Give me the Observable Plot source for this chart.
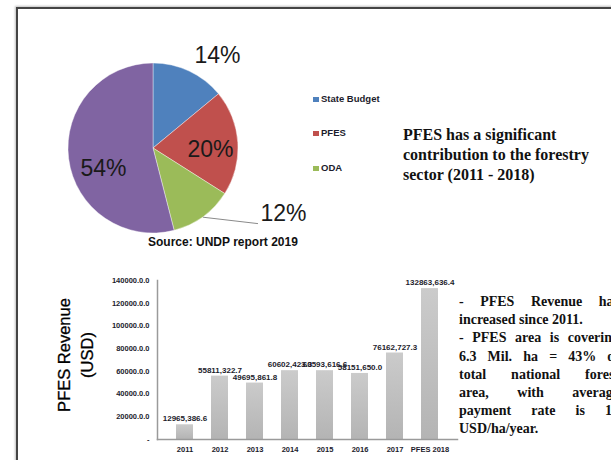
<!DOCTYPE html>
<html><head><meta charset="utf-8">
<script src="https://cdn.jsdelivr.net/npm/d3@7"></script>
<script src="https://cdn.jsdelivr.net/npm/@observablehq/plot@0.6"></script>
<style>
html,body{margin:0;padding:0;width:611px;height:460px;overflow:hidden;background:#fff;}
#stage{position:relative;width:611px;height:460px;overflow:hidden;font-family:"Liberation Sans",Arial,sans-serif;}
.frame{position:absolute;left:16px;top:7px;width:700px;height:600px;border-left:2px solid #444;border-top:2px solid #444;box-shadow:-1px -1px 2px rgba(0,0,0,0.25);}
.abs{position:absolute;}
.legend-item{position:absolute;left:313px;font:bold 9.5px "Liberation Sans",Arial,sans-serif;color:#1c1c2c;white-space:nowrap;line-height:10px;}
.legend-item span{display:inline-block;width:6px;height:5px;margin-right:2px;vertical-align:0px;}
.heading{left:403px;top:125px;font:bold 16px "Liberation Serif","Times New Roman",serif;line-height:20px;color:#111;white-space:nowrap;}
.notes{left:459px;top:293px;width:160px;font:bold 14px "Liberation Serif","Times New Roman",serif;line-height:18.2px;color:#111;}
.notes div{white-space:nowrap;}
.notes .j{text-align:justify;text-align-last:justify;white-space:normal;}
.source{left:148px;top:235px;font:bold 12px "Liberation Sans",Arial,sans-serif;color:#111;white-space:nowrap;}
.ytitle{left:1px;top:332px;width:150px;height:46px;text-align:center;font:16.5px "Liberation Sans",Arial,sans-serif;line-height:23px;color:#000;transform:rotate(-90deg);transform-origin:75px 23px;white-space:nowrap;-webkit-text-stroke:0.3px #000;}
</style>
</head><body>
<div id="stage">
  <div class="frame"></div>
  <div id="pie" class="abs" style="left:0;top:0;"></div>
  <div id="legend"></div>
  <div class="abs source">Source: UNDP report 2019</div>
  <div class="abs heading">PFES has a significant<br>contribution to the forestry<br>sector (2011 - 2018)</div>
  <div class="abs ytitle">PFES Revenue<br>(USD)</div>
  <div id="bars" class="abs" style="left:0;top:260px;"></div>
  <div class="abs notes">
    <div class="j">- PFES Revenue has</div>
    <div>increased since 2011.</div>
    <div class="j">- PFES area is covering</div>
    <div class="j">6.3 Mil. ha = 43% of</div>
    <div class="j">total national forest</div>
    <div class="j">area, with average</div>
    <div class="j">payment rate is 17</div>
    <div>USD/ha/year.</div>
  </div>
</div>
<script>
// ---- Pie data ----
const pieCategories = ["State Budget", "PFES", "ODA", "Other"];
const pieShares = [14, 20, 12, 54];
const pieLabels = ["14%", "20%", "12%", "54%"];
const pieColors = ["#4f81bd", "#c0504d", "#9bbb59", "#8064a2"];
const legendCategories = ["State Budget", "PFES", "ODA"];

// ---- Bar data ----
const years = ["2011", "2012", "2013", "2014", "2015", "2016", "2017", "PFES 2018"];
const revenue = [12965.39, 55811.32, 49695.86, 60602.42, 60593.62, 58151.65, 76162.73, 132863.64];
const revenueLabels = ["12965,386.6", "55811,322.7", "49695,861.8", "60602,423.3", "60593,616.6", "58151,650.0", "76162,727.3", "132863,636.4"];
const yTicks = [0, 20000, 40000, 60000, 80000, 100000, 120000, 140000];
const yTickLabels = ["-", "20000.0.0", "40000.0.0", "60000.0.0", "80000.0.0", "100000.0.0", "120000.0.0", "140000.0.0"];

// ---- Pie ----
const arcs = d3.pie().sort(null).value(d => d)(pieShares);
const rad = Math.PI / 180;
// label placement (radius factor, angular shift in degrees), layout only
const labelLayout = [{r: 1.33, shift: 9.3}, {r: 0.67, shift: 4.6}, {r: 1.71, shift: -27.4}, {r: 0.635, shift: -14.8}];
const labelData = arcs.map((a, i) => {
  const ang = (a.startAngle + a.endAngle) / 2 + labelLayout[i].shift * rad;
  return {x: labelLayout[i].r * Math.sin(ang), y: labelLayout[i].r * Math.cos(ang), text: pieLabels[i]};
});
const odaMid = (arcs[2].startAngle + arcs[2].endAngle) / 2;
const leader = [
  {x: 1.0 * Math.sin(odaMid), y: 1.0 * Math.cos(odaMid)},
  {x: 1.51 * Math.sin(125.8 * rad), y: 1.51 * Math.cos(125.8 * rad)}
];

const pie = Plot.plot({
  width: 611, height: 260, margin: 0,
  x: {domain: [-1, 1], range: [68, 238], axis: null},
  y: {domain: [-1, 1], range: [233, 63], axis: null},
  style: {background: "transparent", overflow: "visible"},
  marks: [
    (index, scales) => {
      const cx = scales.x(0), cy = scales.y(0), r = scales.x(1) - scales.x(0);
      const arc = d3.arc().innerRadius(0).outerRadius(r);
      const g = d3.create("svg:g").attr("transform", `translate(${cx},${cy})`);
      g.selectAll("path").data(arcs).join("path")
        .attr("d", arc).attr("fill", (d, i) => pieColors[i])
        .attr("stroke", "#fff").attr("stroke-width", 0.4);
      return g.node();
    },
    Plot.line(leader, {x: "x", y: "y", stroke: "#8a8a8a", strokeWidth: 1}),
    Plot.text(labelData, {x: "x", y: "y", text: "text", fontSize: 23, fill: "#1a1a1a", fontFamily: "Liberation Sans, Arial, sans-serif"})
  ]
});
document.getElementById("pie").appendChild(pie);

// legend
const legendTops = [94, 128, 163];
const legendEl = document.getElementById("legend");
legendCategories.forEach((c, i) => {
  const d = document.createElement("div");
  d.className = "legend-item";
  d.style.top = legendTops[i] + "px";
  d.innerHTML = `<span style="background:${pieColors[i]}"></span>${c}`;
  legendEl.appendChild(d);
});

// ---- Bars ----
const barData = years.map((y, i) => ({year: y, value: revenue[i], label: revenueLabels[i]}));
const bars = Plot.plot({
  width: 470, height: 200,
  marginLeft: 157, marginRight: 13, marginTop: 20, marginBottom: 21,
  x: {domain: years, padding: 0.52, axis: null},
  y: {domain: [0, 140000], axis: null},
  style: {background: "transparent", fontFamily: "Liberation Sans, Arial, sans-serif", fontSize: "7.5px", fontWeight: "bold", color: "#1c1c2c", overflow: "visible"},
  marks: [
    () => {
      const g = d3.create("svg:g");
      const lg = g.append("defs").append("linearGradient").attr("id", "barGrad")
        .attr("x1", 0).attr("y1", 0).attr("x2", 0).attr("y2", 1);
      lg.append("stop").attr("offset", "0%").attr("stop-color", "#cbcbcb");
      lg.append("stop").attr("offset", "100%").attr("stop-color", "#b4b4b4");
      return g.node();
    },
    Plot.barY(barData, {x: "year", y: "value", fill: "url(#barGrad)"}),
    Plot.axisY({ticks: yTicks, tickFormat: d => yTickLabels[yTicks.indexOf(d)], tickSize: 0, tickPadding: 8, fill: "#1c1c2c", label: null}),
    Plot.axisX({tickSize: 0, tickPadding: 7, fill: "#1c1c2c", label: null}),
    Plot.frame({anchor: "left", stroke: "#9a9a9a", strokeWidth: 1.5}),
    Plot.frame({anchor: "bottom", stroke: "#9a9a9a", strokeWidth: 1.5}),
    Plot.text(barData, {x: "year", y: "value", text: "label", dy: -6, fontSize: 8, fontWeight: "bold", fill: "#1c1c2c"})
  ]
});
document.getElementById("bars").appendChild(bars);
</script>
</body></html>
